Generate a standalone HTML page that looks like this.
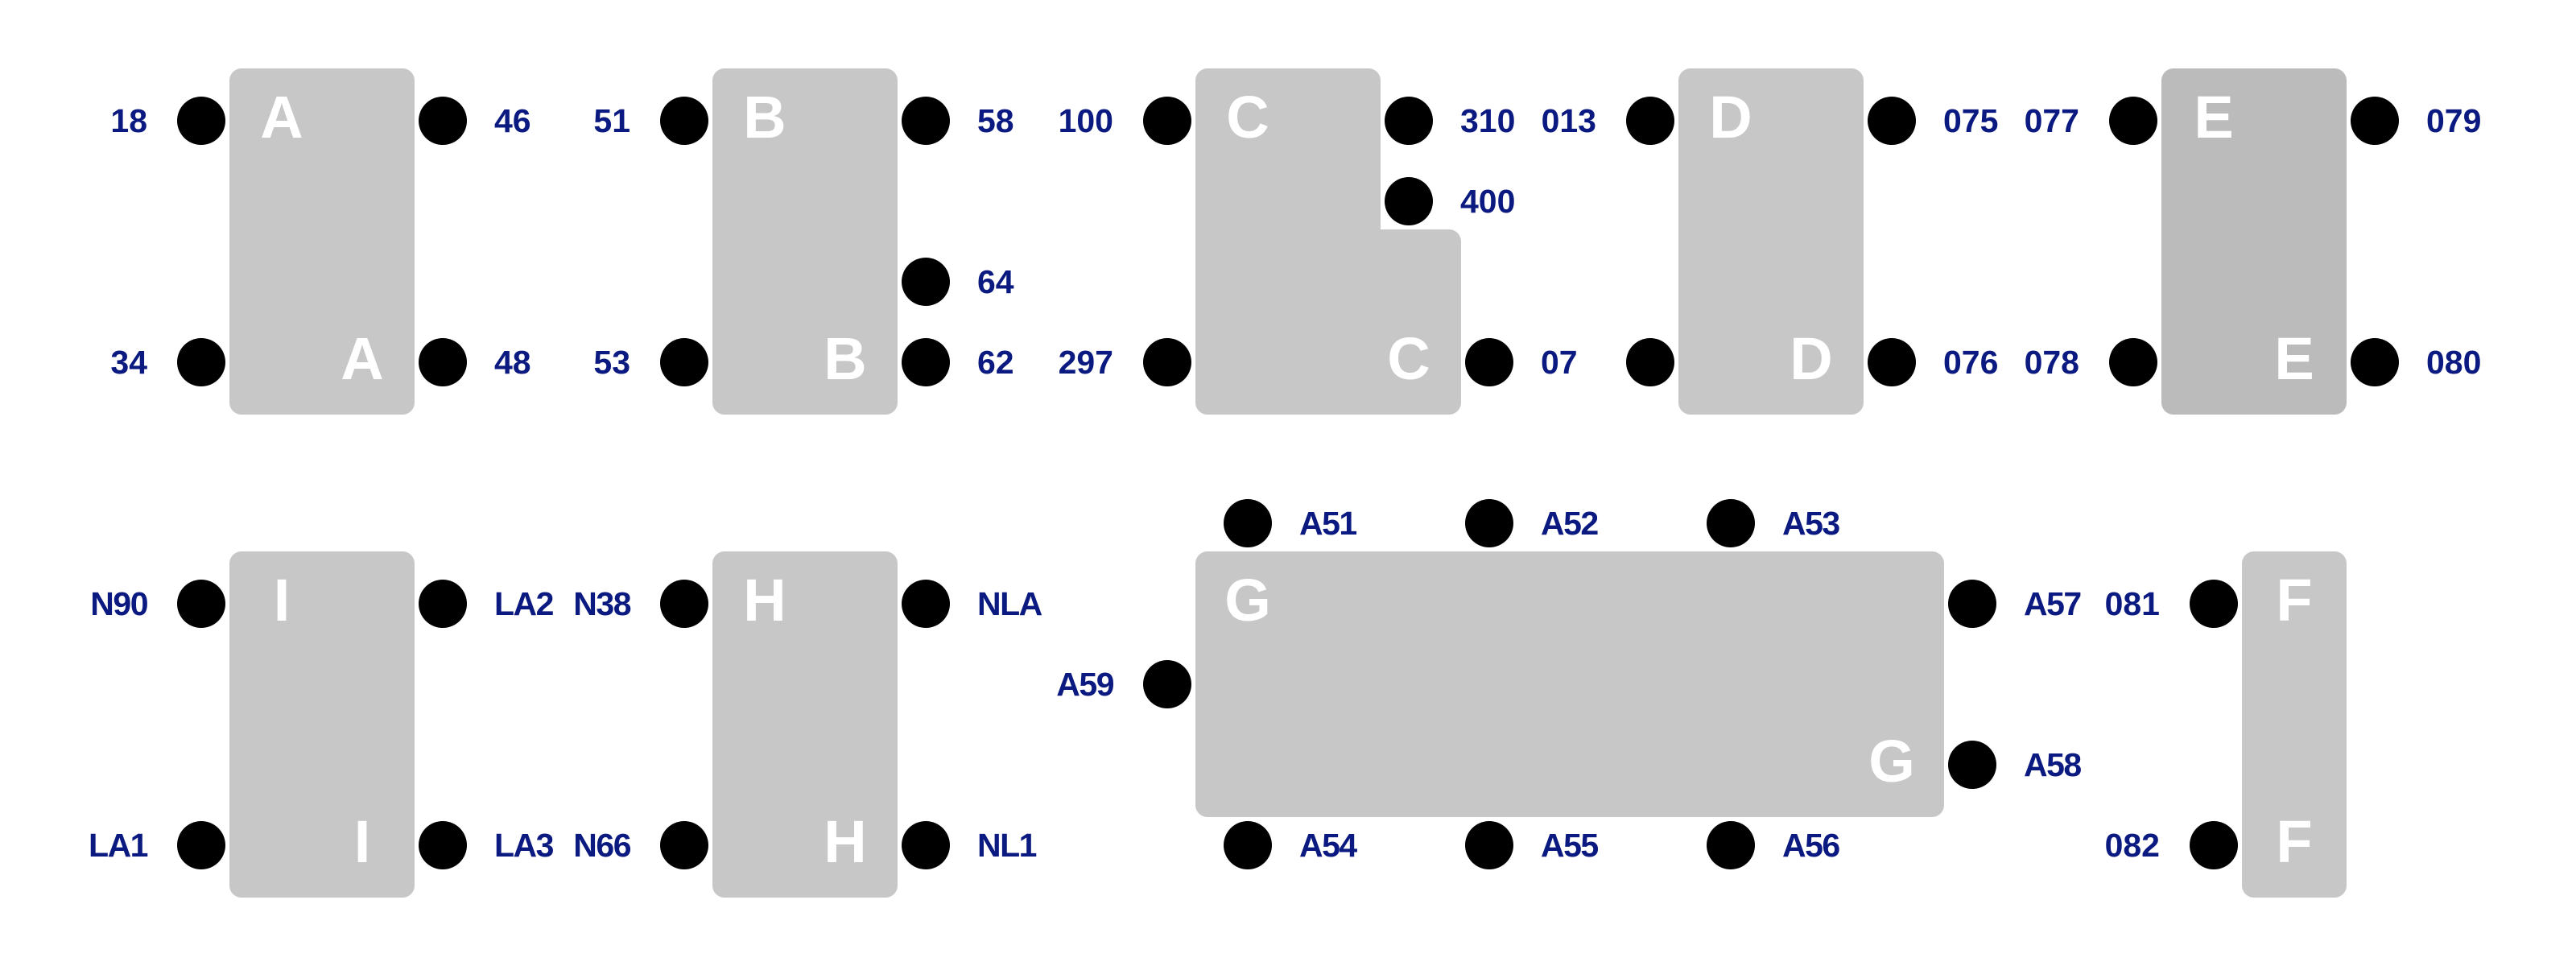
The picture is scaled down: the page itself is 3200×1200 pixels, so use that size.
<!DOCTYPE html>
<html>
<head>
<meta charset="utf-8">
<style>
html,body{margin:0;padding:0;background:#fff;}
svg{display:block;}
.lb{font-family:"Liberation Sans",sans-serif;font-weight:bold;font-size:41px;fill:#0b1a80;}
.n{letter-spacing:-1.5px;}
.bl{font-family:"Liberation Sans",sans-serif;font-weight:bold;font-size:74px;fill:#fff;text-anchor:middle;}
.r{text-anchor:end;}
</style>
</head>
<body>
<svg width="3200" height="1200" viewBox="0 0 3200 1200" xmlns="http://www.w3.org/2000/svg">
<!-- Boxes row 1 -->
<rect x="285" y="85" width="230" height="430" rx="15" fill="#c7c7c7"/>
<rect x="885" y="85" width="230" height="430" rx="15" fill="#c7c7c7"/>
<path d="M1500,85 H1700 A15,15 0 0 1 1715,100 V285 H1800 A15,15 0 0 1 1815,300 V500 A15,15 0 0 1 1800,515 H1500 A15,15 0 0 1 1485,500 V100 A15,15 0 0 1 1500,85 Z" fill="#c7c7c7"/>
<rect x="2085" y="85" width="230" height="430" rx="15" fill="#c7c7c7"/>
<rect x="2685" y="85" width="230" height="430" rx="15" fill="#bbbbbb"/>
<!-- Boxes row 2 -->
<rect x="285" y="685" width="230" height="430" rx="15" fill="#c7c7c7"/>
<rect x="885" y="685" width="230" height="430" rx="15" fill="#c7c7c7"/>
<rect x="1485" y="685" width="930" height="330" rx="15" fill="#c7c7c7"/>
<rect x="2785" y="685" width="130" height="430" rx="15" fill="#c7c7c7"/>

<!-- Box letters -->
<text class="bl" x="350" y="171">A</text><text class="bl" x="450" y="471">A</text>
<text class="bl" x="950" y="171">B</text><text class="bl" x="1050" y="471">B</text>
<text class="bl" x="1550" y="171">C</text><text class="bl" x="1750" y="471">C</text>
<text class="bl" x="2150" y="171">D</text><text class="bl" x="2250" y="471">D</text>
<text class="bl" x="2750" y="171">E</text><text class="bl" x="2850" y="471">E</text>
<text class="bl" x="350" y="771">I</text><text class="bl" x="450" y="1071">I</text>
<text class="bl" x="950" y="771">H</text><text class="bl" x="1050" y="1071">H</text>
<text class="bl" x="1550" y="771">G</text><text class="bl" x="2350" y="971">G</text>
<text class="bl" x="2850" y="771">F</text><text class="bl" x="2850" y="1071">F</text>

<!-- Ports -->
<g fill="#000">
<circle cx="250" cy="150" r="30"/><circle cx="250" cy="450" r="30"/>
<circle cx="550" cy="150" r="30"/><circle cx="550" cy="450" r="30"/>
<circle cx="850" cy="150" r="30"/><circle cx="850" cy="450" r="30"/>
<circle cx="1150" cy="150" r="30"/><circle cx="1150" cy="350" r="30"/><circle cx="1150" cy="450" r="30"/>
<circle cx="1450" cy="150" r="30"/><circle cx="1450" cy="450" r="30"/>
<circle cx="1750" cy="150" r="30"/><circle cx="1750" cy="250" r="30"/><circle cx="1850" cy="450" r="30"/>
<circle cx="2050" cy="150" r="30"/><circle cx="2050" cy="450" r="30"/>
<circle cx="2350" cy="150" r="30"/><circle cx="2350" cy="450" r="30"/>
<circle cx="2650" cy="150" r="30"/><circle cx="2650" cy="450" r="30"/>
<circle cx="2950" cy="150" r="30"/><circle cx="2950" cy="450" r="30"/>

<circle cx="250" cy="750" r="30"/><circle cx="250" cy="1050" r="30"/>
<circle cx="550" cy="750" r="30"/><circle cx="550" cy="1050" r="30"/>
<circle cx="850" cy="750" r="30"/><circle cx="850" cy="1050" r="30"/>
<circle cx="1150" cy="750" r="30"/><circle cx="1150" cy="1050" r="30"/>
<circle cx="1550" cy="650" r="30"/><circle cx="1850" cy="650" r="30"/><circle cx="2150" cy="650" r="30"/>
<circle cx="1550" cy="1050" r="30"/><circle cx="1850" cy="1050" r="30"/><circle cx="2150" cy="1050" r="30"/>
<circle cx="1450" cy="850" r="30"/>
<circle cx="2450" cy="750" r="30"/><circle cx="2450" cy="950" r="30"/>
<circle cx="2750" cy="750" r="30"/><circle cx="2750" cy="1050" r="30"/>
</g>

<!-- Labels row 1 -->
<text class="lb r" x="183" y="164">18</text>
<text class="lb r" x="183" y="464">34</text>
<text class="lb" x="614" y="164">46</text>
<text class="lb" x="614" y="464">48</text>
<text class="lb r" x="783" y="164">51</text>
<text class="lb r" x="783" y="464">53</text>
<text class="lb" x="1214" y="164">58</text>
<text class="lb" x="1214" y="364">64</text>
<text class="lb" x="1214" y="464">62</text>
<text class="lb r" x="1383" y="164">100</text>
<text class="lb r" x="1383" y="464">297</text>
<text class="lb" x="1814" y="164">310</text>
<text class="lb" x="1814" y="264">400</text>
<text class="lb" x="1914" y="464">07</text>
<text class="lb r" x="1983" y="164">013</text>
<text class="lb" x="2414" y="164">075</text>
<text class="lb" x="2414" y="464">076</text>
<text class="lb r" x="2583" y="164">077</text>
<text class="lb r" x="2583" y="464">078</text>
<text class="lb" x="3014" y="164">079</text>
<text class="lb" x="3014" y="464">080</text>

<!-- Labels row 2 -->
<text class="lb n r" x="183" y="764">N90</text>
<text class="lb n r" x="183" y="1064">LA1</text>
<text class="lb n" x="614" y="764">LA2</text>
<text class="lb n" x="614" y="1064">LA3</text>
<text class="lb n r" x="783" y="764">N38</text>
<text class="lb n r" x="783" y="1064">N66</text>
<text class="lb n" x="1214" y="764">NLA</text>
<text class="lb n" x="1214" y="1064">NL1</text>
<text class="lb n" x="1614" y="664">A51</text>
<text class="lb n" x="1914" y="664">A52</text>
<text class="lb n" x="2214" y="664">A53</text>
<text class="lb n" x="1614" y="1064">A54</text>
<text class="lb n" x="1914" y="1064">A55</text>
<text class="lb n" x="2214" y="1064">A56</text>
<text class="lb n r" x="1383" y="864">A59</text>
<text class="lb n" x="2514" y="764">A57</text>
<text class="lb n" x="2514" y="964">A58</text>
<text class="lb r" x="2683" y="764">081</text>
<text class="lb r" x="2683" y="1064">082</text>
</svg>
</body>
</html>
